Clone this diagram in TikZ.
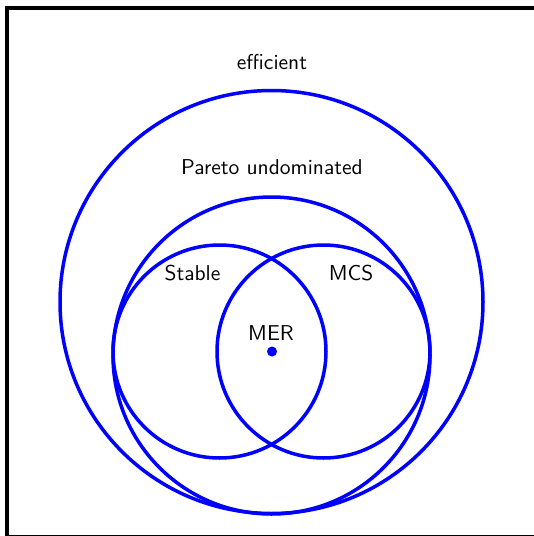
\documentclass[tikz,border=0pt]{standalone}
\newcommand{\setname}[1]{\scalebox{2.15}{\fontsize{10}{12}\selectfont\sffamily #1}}
\begin{document}
\begin{tikzpicture}[x=1pt,y=-1pt,
  setring/.style={draw=blue,line width=3.5pt},
  setlabel/.style={anchor=base,inner sep=0pt}]
\useasboundingbox (0,0) rectangle (534,536);
\clip (0,0) rectangle (534,536);
% outer frame
\draw[line width=4pt] (7,8) rectangle (560,537);
% nested solution concepts
\node[setring,circle,minimum size=423pt,inner sep=0pt] (eff) at (271.5,302) {};
\node[setring,circle,minimum size=317pt,inner sep=0pt] (par) at (271.5,355.5) {};
\node[setring,circle,minimum size=213pt,inner sep=0pt] (stab) at (219.5,351.5) {};
\node[setring,circle,minimum size=213pt,inner sep=0pt] (mcs) at (323.5,351.5) {};
\node[circle,fill=blue,minimum size=10pt,inner sep=0pt] (mer) at (272,351.5) {};
% labels
\node[setlabel] (leff) at (272,69) {\setname{efficient}};
\node[setlabel] (lpar) at (272,174) {\setname{Pareto undominated}};
\node[setlabel] (lstab) at (192.5,280) {\setname{Stable}};
\node[setlabel] (lmcs) at (351,280) {\setname{MCS}};
\node[setlabel] (lmer) at (271,340) {\setname{MER}};
\end{tikzpicture}
\end{document}
